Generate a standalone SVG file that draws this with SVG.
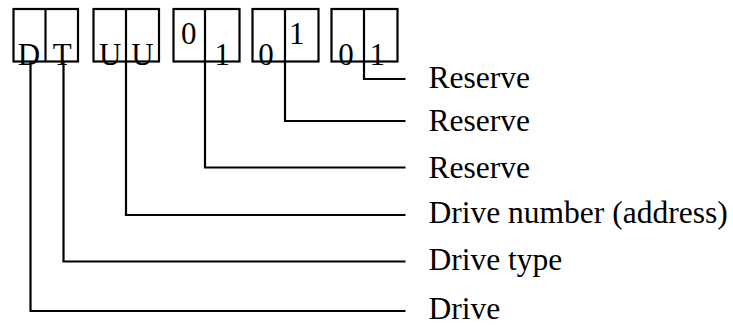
<svg xmlns="http://www.w3.org/2000/svg" width="733" height="327" viewBox="0 0 733 327">
<style>
.box{fill:none;stroke:#000;stroke-width:2.2}
.div{stroke:#000;stroke-width:2.2}
.ch{font-family:"Liberation Serif","Times New Roman",serif;font-size:31px;fill:#000}
.lbl{font-family:"Liberation Serif","Times New Roman",serif;font-size:31.5px;fill:#000}
.con{fill:none;stroke:#000;stroke-width:2.2}
</style>
<rect width="733" height="327" fill="#fff"/>
<g id="connectors">
<polyline class="con" points="30.5,61.5 30.5,311 405.5,311"/>
<polyline class="con" points="63.5,61.5 63.5,261.5 405.5,261.5"/>
<polyline class="con" points="126,61.5 126,215 405.5,215"/>
<polyline class="con" points="205,61.5 205,167.5 405.5,167.5"/>
<polyline class="con" points="285,61.5 285,121 405.5,121"/>
<polyline class="con" points="364,61.5 364,79 405.5,79"/>
</g>
<g id="box-DT">
<rect class="box" x="13.5" y="9" width="64.5" height="52.5"/>
<line class="div" x1="45.5" y1="9" x2="45.5" y2="61.5"/>
<text class="ch" x="17.8" y="64.8">D</text>
<text class="ch" x="52.8" y="64.8">T</text>
</g>
<g id="box-UU">
<rect class="box" x="93.5" y="9" width="65.5" height="52.5"/>
<line class="div" x1="126" y1="9" x2="126" y2="61.5"/>
<text class="ch" x="98.9" y="64.8">U</text>
<text class="ch" x="131.3" y="64.8">U</text>
</g>
<g id="box-01a">
<rect class="box" x="173.5" y="9" width="66" height="52.5"/>
<line class="div" x1="205" y1="9" x2="205" y2="61.5"/>
<text class="ch" x="181" y="44.3">0</text>
<text class="ch" x="214.5" y="65">1</text>
</g>
<g id="box-01b">
<rect class="box" x="252.5" y="9" width="66" height="52.5"/>
<line class="div" x1="285" y1="9" x2="285" y2="61.5"/>
<text class="ch" x="258.3" y="65">0</text>
<text class="ch" x="289" y="44.3">1</text>
</g>
<g id="box-01c">
<rect class="box" x="331.5" y="9" width="66" height="52.5"/>
<line class="div" x1="364" y1="9" x2="364" y2="61.5"/>
<text class="ch" x="338.3" y="65">0</text>
<text class="ch" x="369.5" y="65">1</text>
</g>
<g id="labels">
<text class="lbl" x="428.5" y="87.5">Reserve</text>
<text class="lbl" x="428.5" y="131">Reserve</text>
<text class="lbl" x="428.5" y="177.5">Reserve</text>
<text class="lbl" x="428.5" y="223">Drive number (address)</text>
<text class="lbl" x="428.5" y="270">Drive type</text>
<text class="lbl" x="428.5" y="318.5">Drive</text>
</g>
</svg>
